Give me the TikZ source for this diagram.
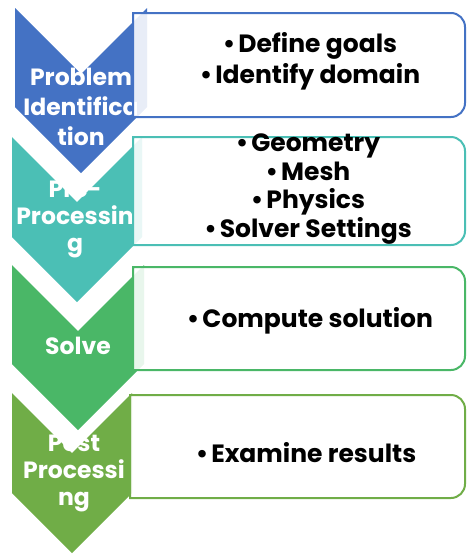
\documentclass[tikz,border=0pt]{standalone}
\usepackage{fontspec}
\setmainfont{Poppins}
\definecolor{cA}{HTML}{4472C4}
\definecolor{cB}{HTML}{4BBFB5}
\definecolor{cC}{HTML}{4AB767}
\definecolor{cD}{HTML}{70AD47}
\newcommand\bul{•\hspace{0.12em}}
\newcommand\chevronshape[5]{%
  \fill[#1] (#2-#3,#4) -- (#2,#4+#3) -- (#2+#3,#4) -- (#2+#3,#5-#3) -- (#2,#5) -- (#2-#3,#5-#3) -- cycle;}
\newcommand\infobox[5]{%
  \filldraw[draw=#1, line width=2pt, fill=white, fill opacity=0.88]
    (#2,#3) -- (#4-14,#3) .. controls (#4-6.3,#3) and (#4,#3+6.3) .. (#4,#3+14)
    -- (#4,#5-14) .. controls (#4,#5-6.3) and (#4-6.3,#5) .. (#4-14,#5)
    -- (#2,#5) -- cycle;}
\tikzset{
  chevtext/.style={text=white, align=center, inner sep=0pt,
    font=\fontsize{23.5}{27}\selectfont\bfseries},
  boxtext/.style={text=black, align=center, inner sep=0pt,
    font=\fontsize{25}{29}\selectfont\bfseries},
}
\begin{document}
\begin{tikzpicture}[x=1pt,y=-1pt]
\useasboundingbox (0,0) rectangle (467,554);
% chevrons
\chevronshape{cA}{81}{66}{8}{173}
\chevronshape{cB}{77}{65}{137}{302}
\chevronshape{cC}{78}{66}{265}{430}
\chevronshape{cD}{72}{60}{393}{553}
% chevron labels
\node[chevtext, font=\fontsize{23.5}{30}\selectfont\bfseries] (c1) at (81,107) {Problem\\Identifica\\tion};
\node[chevtext] (c2) at (75,219) {Pre-\\Processin\\g};
\node[chevtext] (c3) at (78,346) {Solve};
\node[chevtext] (c4) at (74,473) {Post\\Processi\\ng};
% boxes
\infobox{cA}{133}{13}{465}{117}
\infobox{cB}{133}{137}{465}{245}
\infobox{cC}{133}{267}{465}{370}
\infobox{cD}{130}{395}{465}{498}
% box texts
\node[boxtext, font=\fontsize{25}{31}\selectfont\bfseries] (b1) at (310,61) {\bul Define goals\\\bul Identify domain};
\node[boxtext, font=\fontsize{25}{28.5}\selectfont\bfseries] (b2) at (308,189) {\bul Geometry\\\bul Mesh\\\bul Physics\\\bul Solver Settings};
\node[boxtext] (b3) at (310,321) {\bul Compute solution};
\node[boxtext] (b4) at (306,453) {\bul Examine results};
\end{tikzpicture}
\end{document}
